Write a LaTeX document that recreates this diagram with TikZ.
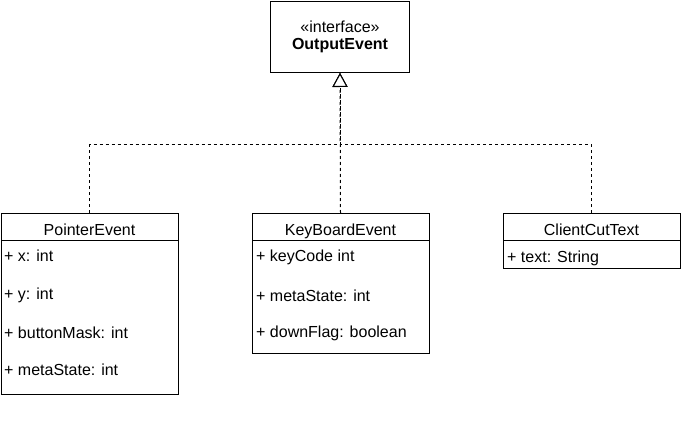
\documentclass[tikz,border=0pt]{standalone}
\usepackage{fontspec}
\setmainfont{Liberation Sans}
\usetikzlibrary{arrows.meta}
\usetikzlibrary{positioning}

\tikzset{
    umltext/.style = {font=\fontsize{16}{17}\selectfont},
    classname/.style = {draw, umltext, line width=1pt, minimum width=177pt, minimum height=27pt, text height=17pt, text depth=0pt, inner sep=0pt, outer sep=0pt, anchor=north west},
    classbody/.style = {draw, line width=1pt, minimum width=177pt, inner sep=0pt, outer sep=0pt},
    field/.style = {umltext, anchor=west, inner sep=0pt},
    realize/.style = {line width=1pt, dash pattern=on 3pt off 3pt, -{Triangle[length=14pt, width=15pt, fill=white, line width=1pt]}}
}

\begin{document}
\begin{tikzpicture}[x = 1pt, y = -1pt]
        \useasboundingbox (0, 0) rectangle (691, 441);
        \node [draw, umltext, line width=1pt, minimum width=139pt, minimum height=71pt, align=center] (iface) at (340, 37) {«interface»\\\textbf{OutputEvent}};

        \node [classname] (pointer) at (1, 213) {PointerEvent};
        \node [classbody, minimum height=154pt, below=0pt of pointer] (pointerbody) {};
        \node [field] (px) at (4, 256) {+ x: int};
        \node [field] (py) at (4, 295) {+ y: int};
        \node [field] (pmask) at (4, 333) {+ buttonMask: int};
        \node [field] (pmeta) at (4, 370) {+ metaState: int};

        \node [classname] (keyboard) at (252, 213) {KeyBoardEvent};
        \node [classbody, minimum height=113pt, below=0pt of keyboard] (keyboardbody) {};
        \node [field] (kcode) at (256, 257) {+ keyCode int};
        \node [field] (kmeta) at (256, 296) {+ metaState: int};
        \node [field] (kflag) at (256, 333) {+ downFlag: boolean};

        \node [classname] (client) at (503, 213) {ClientCutText};
        \node [classbody, minimum height=28pt, below=0pt of client] (clientbody) {};
        \node [field] (ctext) at (507, 258) {+ text: String};

        \coordinate (fork) at (340, 145);
        \draw [realize] (pointer.north) |- (fork) -- (iface.south);
        \draw [realize] (keyboard.north) -- (iface.south);
        \draw [realize] (client.north) |- (fork) -- (iface.south);
    \end{tikzpicture}
\end{document}
